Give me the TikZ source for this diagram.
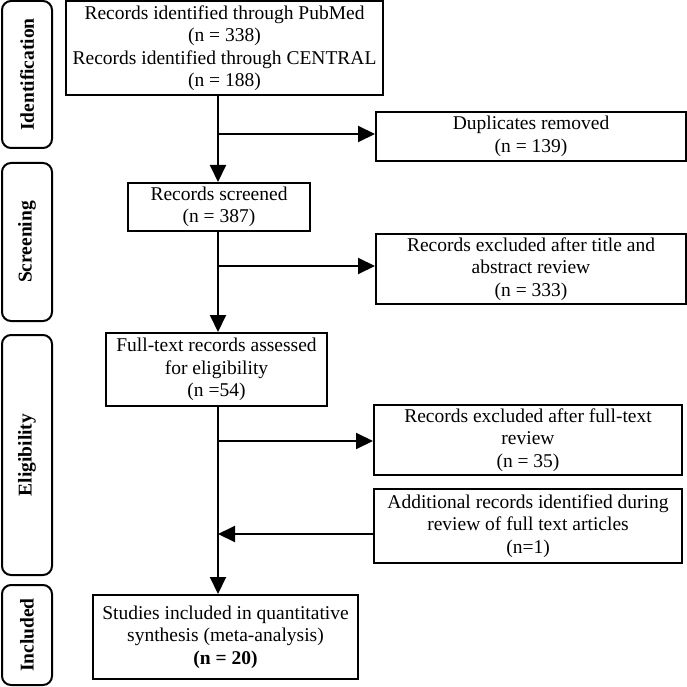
\documentclass[tikz,border=0pt]{standalone}
\usepackage{fontspec}
\setmainfont{Liberation Serif}
\usetikzlibrary{arrows.meta}
\tikzset{>={Triangle[length=17pt,width=16pt]}}
\tikzset{box/.style={draw, line width=2pt, align=center, inner sep=1pt,
  font=\fontsize{19.5}{22.5}\selectfont}}
\tikzset{stage/.style={draw, line width=2pt, rounded corners=9pt, rotate=90,
  minimum height=50pt, inner sep=0pt, font=\bfseries\fontsize{19.5}{22}\selectfont}}
\tikzset{flow/.style={line width=2pt}}

\begin{document}
\begin{tikzpicture}[x=1pt, y=-1pt]
    \useasboundingbox (0, 0) rectangle (687, 687);
    \node[stage, minimum width=147pt](ident) at (27, 74.5){Identification};
    \node[stage, minimum width=158pt](screen) at (27, 242){Screening};
    \node[stage, minimum width=240pt](elig) at (27, 455){Eligibility};
    \node[stage, minimum width=100pt](incl) at (27, 635){Included};

    \node[box, minimum width=317pt, minimum height=94pt](found) at (224.5, 48){Records identified through PubMed\\(n = 338)\\Records identified through CENTRAL\\(n = 188)};
    \node[box, minimum width=310pt, minimum height=49pt](dup) at (531, 136.5){Duplicates removed\\(n = 139)};
    \node[box, minimum width=182pt, minimum height=48pt](screened) at (219, 207){Records screened\\(n = 387)};
    \node[box, minimum width=310pt, minimum height=70pt](exclA) at (531, 269){Records excluded after title and\\abstract review\\(n = 333)};
    \node[box, minimum width=221pt, minimum height=73pt](full) at (216.5, 369.5){Full-text records assessed\\for eligibility\\(n =54)};
    \node[box, minimum width=308pt, minimum height=70pt](exclB) at (528, 440){Records excluded after full-text\\review\\(n = 35)};
    \node[box, minimum width=308pt, minimum height=74pt](extra) at (528, 526){Additional records identified during\\review of full text articles\\(n=1)};
    \node[box, minimum width=265pt, minimum height=84pt](final) at (225.5, 637){Studies included in quantitative\\synthesis (meta-analysis)\\\textbf{(n = 20)}};

    \coordinate(spine) at (218, 0);
    \coordinate(joinA) at (218, 134);
    \coordinate(joinB) at (218, 266);
    \coordinate(joinC) at (218, 441);
    \coordinate(joinD) at (218, 534);

    \draw[flow, ->](found.south -| spine)--(screened.north -| spine);
    \draw[flow, ->](joinA)--(dup.west |- joinA);
    \draw[flow, ->](screened.south -| spine)--(full.north -| spine);
    \draw[flow, ->](joinB)--(exclA.west |- joinB);
    \draw[flow, ->](full.south -| spine)--(final.north -| spine);
    \draw[flow, ->](joinC)--(exclB.west |- joinC);
    \draw[flow, ->](extra.west |- joinD)--(joinD);
\end{tikzpicture}
\end{document}
